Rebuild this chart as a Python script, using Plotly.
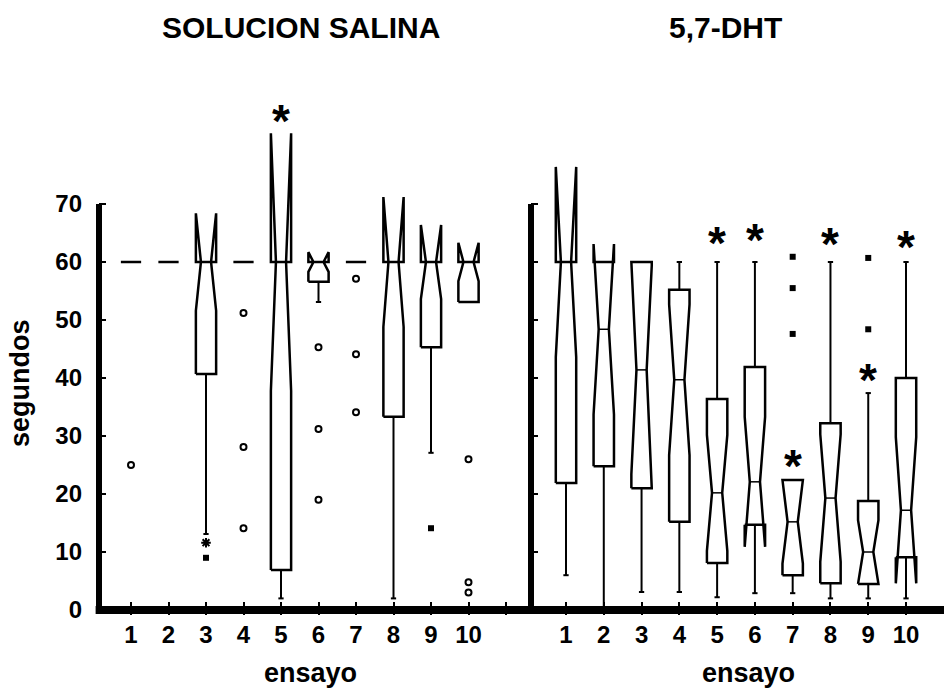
import plotly.graph_objects as go

# ---------------- data ----------------
trials = [1, 2, 3, 4, 5, 6, 7, 8, 9, 10]
tick_labels = ["1", "2", "3", "4", "5", "6", "7", "8", "9", "10"]
y_ticks = [0, 10, 20, 30, 40, 50, 60, 70]

# SOLUCION SALINA
sal_q1 = [60, 60, 40.7, 60, 6.9, 56.6, 60, 33.3, 45.3, 53.1]
sal_med = [60, 60, 60, 60, 60, 60, 60, 60, 60, 60]
sal_q3 = [60, 60, 60, 60, 60, 60, 60, 60, 60, 60]
sal_notch_lo = [60, 60, 51.6, 60, 37.8, 58.3, 60, 48.8, 53.6, 56.7]
sal_notch_hi = [60, 60, 68.4, 60, 82.2, 61.7, 60, 71.2, 66.4, 63.3]
sal_whisk_lo = [60, 60, 13.1, 60, 2.0, 53.1, 60, 2.0, 27.1, 53.1]
sal_whisk_hi = [60, 60, 60, 60, 60, 60, 60, 60, 60, 60]
sal_open_x = [1, 4, 4, 4, 6, 6, 6, 7, 7, 7, 10, 10, 10]
sal_open_y = [25, 51.2, 28.1, 14.1, 45.3, 31.2, 19.0, 57.1, 44.1, 34.1, 26.0, 4.8, 3.0]
sal_fill_x = [3, 9]
sal_fill_y = [9.0, 14.1]
sal_far_x = [3]
sal_far_y = [11.6]
sal_sig_x = [5]
sal_sig_y = [85.7]

# 5,7-DHT
dht_q1 = [21.9, 24.8, 21.0, 15.2, 8.1, 14.7, 6.0, 4.6, 4.5, 9.1]
dht_med = [60, 48.4, 41.4, 39.7, 20.2, 22.1, 15.2, 19.3, 10.0, 17.2]
dht_q3 = [60, 60, 60, 55.2, 36.4, 41.9, 22.4, 32.2, 18.8, 40.0]
dht_notch_lo = [43.6, 33.7, 23.4, 26.7, 10.2, 10.9, 8.0, 8.3, 4.5, 4.6]
dht_notch_hi = [76.4, 63.1, 59.4, 52.7, 30.2, 33.3, 22.4, 30.3, 15.5, 29.8]
dht_whisk_lo = [6.0, 0.5, 3.1, 3.1, 2.2, 2.9, 2.9, 2.0, 2.0, 2.0]
dht_whisk_hi = [60, 60, 60, 60, 60, 60, 22.4, 60, 37.4, 60]
dht_out_x = [7, 7, 7, 9, 9]
dht_out_y = [60.9, 55.5, 47.6, 60.7, 48.4]
dht_sig_x = [5, 6, 7, 8, 9, 10]
dht_sig_y = [64.7, 65.2, 26.2, 64.5, 41.0, 64.0]

# ---------------- style ----------------
HALF_W = 0.27
CAP_W = 0.07
INK = "black"
FONT = "Liberation Sans, Arial, sans-serif"


def box_paths(xs, q1, med, q3, nlo, nhi, wlo, whi):
    bx, by, mx, my, wx, wy = [], [], [], [], [], []
    for c, a, m, b, lo, hi, wl, wh in zip(xs, q1, med, q3, nlo, nhi, wlo, whi):
        w = HALF_W
        bx += [c - w, c - w, c - w / 2, c - w, c - w, c + w, c + w, c + w / 2, c + w, c + w, c - w, None]
        by += [a, lo, m, hi, b, b, hi, m, lo, a, a, None]
        mx += [c - w / 2, c + w / 2, None]
        my += [m, m, None]
        if wl < a:
            wx += [c, c, None, c - CAP_W, c + CAP_W, None]
            wy += [a, wl, None, wl, wl, None]
        if wh > b:
            wx += [c, c, None, c - CAP_W, c + CAP_W, None]
            wy += [b, wh, None, wh, wh, None]
    return (bx, by), (mx, my), (wx, wy)


fig = go.Figure()

for (xa, ya, q1, med, q3, nlo, nhi, wlo, whi) in [
    ("x", "y", sal_q1, sal_med, sal_q3, sal_notch_lo, sal_notch_hi, sal_whisk_lo, sal_whisk_hi),
    ("x2", "y2", dht_q1, dht_med, dht_q3, dht_notch_lo, dht_notch_hi, dht_whisk_lo, dht_whisk_hi),
]:
    (bx, by), (mx, my), (wx, wy) = box_paths(trials, q1, med, q3, nlo, nhi, wlo, whi)
    fig.add_trace(go.Scatter(x=wx, y=wy, mode="lines", line=dict(color=INK, width=2),
                             xaxis=xa, yaxis=ya, hoverinfo="skip", showlegend=False))
    fig.add_trace(go.Scatter(x=bx, y=by, mode="lines", line=dict(color=INK, width=2.5),
                             xaxis=xa, yaxis=ya, hoverinfo="skip", showlegend=False))
    fig.add_trace(go.Scatter(x=mx, y=my, mode="lines", line=dict(color=INK, width=1.5),
                             xaxis=xa, yaxis=ya, hoverinfo="skip", showlegend=False))

# outliers
fig.add_trace(go.Scatter(x=sal_open_x, y=sal_open_y, mode="markers", xaxis="x", yaxis="y",
                         marker=dict(symbol="circle-open", size=6, color=INK, line=dict(width=2)),
                         showlegend=False))
fig.add_trace(go.Scatter(x=sal_fill_x, y=sal_fill_y, mode="markers", xaxis="x", yaxis="y",
                         marker=dict(symbol="square", size=6, color=INK), showlegend=False))
fig.add_trace(go.Scatter(x=sal_far_x, y=sal_far_y, mode="markers", xaxis="x", yaxis="y",
                         marker=dict(symbol="asterisk-open", size=8, color=INK, line=dict(width=2, color=INK)),
                         showlegend=False))
fig.add_trace(go.Scatter(x=dht_out_x, y=dht_out_y, mode="markers", xaxis="x2", yaxis="y2",
                         marker=dict(symbol="square", size=6, color=INK), showlegend=False))

annotations = []
for xs, ys, xr in [(sal_sig_x, sal_sig_y, "x"), (dht_sig_x, dht_sig_y, "x2")]:
    for xv, yv in zip(xs, ys):
        annotations.append(dict(x=xv, y=yv, xref=xr, yref="y", text="*", showarrow=False,
                                font=dict(family=FONT, size=46, color=INK, weight="bold"),
                                yshift=-8))

W, H = 944, 700
ML, MR, MT, MB = 99, 0, 100, 85
title_font = dict(family=FONT, size=30, color=INK, weight="bold")
label_font = dict(family=FONT, size=27, color=INK, weight="bold")
labels = [
    (301, 28, "SOLUCION SALINA", title_font, 0),
    (725, 28, "5,7-DHT", title_font, 0),
    (310, 673, "ensayo", label_font, 0),
    (748, 673, "ensayo", label_font, 0),
    (20, 383, "segundos", label_font, -90),
]
for px, py, txt, fnt, ang in labels:
    annotations.append(dict(x=(px - ML) / (W - ML - MR), y=1 - (py - MT) / (H - MT - MB),
                            xref="paper", yref="paper", text=txt, textangle=ang,
                            showarrow=False, font=fnt, xanchor="center", yanchor="middle"))

split = (531 - ML) / (W - ML - MR)
tickfont = dict(family=FONT, size=24, color=INK, weight="bold")

fig.update_layout(
    width=W, height=H,
    margin=dict(l=ML, r=MR, t=MT, b=MB),
    paper_bgcolor="white", plot_bgcolor="white",
    showlegend=False,
    annotations=annotations,
    xaxis=dict(domain=[0, split], range=[1 - 32 / 37.5, 1 + 400 / 37.5],
               tickvals=trials + [11], ticktext=tick_labels + [""],
               ticks="inside", ticklen=13, tickwidth=2, tickcolor=INK,
               showgrid=False, zeroline=False, showline=False,
               tickfont=tickfont, ticklabelstandoff=3, anchor="y"),
    xaxis2=dict(domain=[split, 1], range=[1 - 35 / 37.78, 1 + 378 / 37.78],
                tickvals=trials, ticktext=tick_labels,
                ticks="inside", ticklen=13, tickwidth=2, tickcolor=INK,
                showgrid=False, zeroline=False, showline=False,
                tickfont=tickfont, ticklabelstandoff=3, anchor="y2"),
    yaxis=dict(range=[-5 / 5.8, 510 / 5.8], tickvals=y_ticks,
               ticks="inside", ticklen=7, tickwidth=2, tickcolor=INK,
               showgrid=False, zeroline=False, showline=False,
               tickfont=tickfont, ticklabelstandoff=16, anchor="x"),
    yaxis2=dict(matches="y", range=[-5 / 5.8, 510 / 5.8], tickvals=y_ticks[1:],
                ticks="inside", ticklen=7, tickwidth=2, tickcolor=INK,
                showticklabels=False, showgrid=False, zeroline=False, showline=False,
                anchor="x2"),
    shapes=[
        dict(type="line", xref="paper", yref="y", x0=0, x1=0, y0=0, y1=y_ticks[-1],
             line=dict(color=INK, width=6)),
        dict(type="line", xref="x2 domain", yref="y", x0=0, x1=0, y0=0, y1=y_ticks[-1],
             line=dict(color=INK, width=6)),
        dict(type="line", xref="paper", yref="y", x0=-0.004, x1=1, y0=0, y1=0,
             line=dict(color=INK, width=8)),
    ],
)

fig.write_html("out.html")
